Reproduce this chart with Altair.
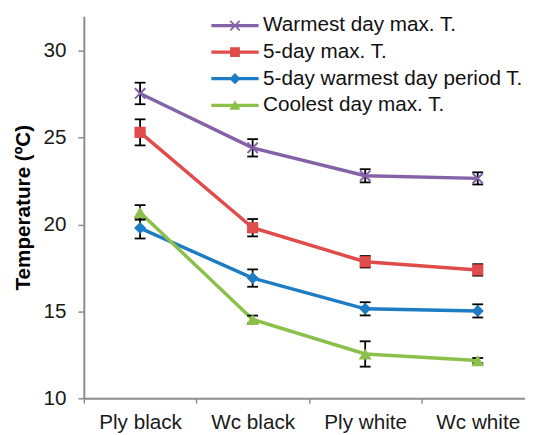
import json
import altair as alt
import pandas as pd

# ---- data ----
categories = ["Ply black", "Wc black", "Ply white", "Wc white"]
series_names = [
    "Warmest day max. T.",
    "5-day max. T.",
    "5-day warmest day period T.",
    "Coolest day max. T.",
]
warmest = [27.55, 24.42, 22.81, 22.66]
warmest_err = [0.62, 0.5, 0.38, 0.35]
five_day = [25.31, 19.82, 17.86, 17.39]
five_day_err = [0.75, 0.5, 0.33, 0.33]
five_day_warm = [19.8, 16.92, 15.15, 15.03]
five_day_warm_err = [0.6, 0.5, 0.38, 0.38]
coolest = [20.7, 14.54, 12.55, 12.17]
coolest_err = [0.42, 0.22, 0.73, 0.15]

y_ticks = [10, 15, 20, 25, 30]

# ---- styles ----
colors = ["#8462A8", "#E04B4B", "#1E7CC4", "#8BC04A"]
FONT = "Liberation Sans"

values = [warmest, five_day, five_day_warm, coolest]
errors = [warmest_err, five_day_err, five_day_warm_err, coolest_err]
rows = []
for s, vals, errs in zip(series_names, values, errors):
    for i, (c, v, e) in enumerate(zip(categories, vals, errs)):
        rows.append({"idx": i, "cat": c, "series": s, "value": v,
                     "lo": v - e, "hi": v + e})
df = pd.DataFrame(rows)

label_expr = ("datum.value % 1 === 0 && datum.value >= 0 ? "
              + json.dumps(categories) + "[datum.value] : ''")

x_axis = alt.Axis(
    values=[-0.5, 0, 0.5, 1, 1.5, 2, 2.5, 3],
    labelExpr=label_expr,
    title=None,
    tickSize=5,
    tickWidth=1.5,
    tickOpacity={"condition": {"test": "datum.value % 1 !== 0", "value": 1}, "value": 0},
    labelPadding=9,
    labelOverlap=False,
    labelFlush=False,
    labelBound=False,
    domainWidth=2,
    grid=False,
)
x_scale = alt.Scale(domain=[-0.5, 3.42], nice=False, zero=False)
y_scale = alt.Scale(domain=[10, 32], nice=False, zero=False)
y_axis = alt.Axis(
    values=y_ticks,
    title="Temperature (ºC)",
    tickSize=6,
    tickWidth=1.5,
    labelPadding=12,
    domainWidth=2,
    grid=False,
    titleFontWeight="bold",
    titleFontSize=21,
    titleFont=FONT,
    titleColor="#000000",
    titleX=-55,
    titleY=194,
    titleAngle=270,
    titleAlign="center",
    titleBaseline="alphabetic",
)

X = alt.X("idx:Q", scale=x_scale, axis=x_axis)
Y = alt.Y("value:Q", scale=y_scale, axis=y_axis)

base = alt.Chart(df)

line_layers = []
for name, col in zip(series_names, colors):
    line_layers.append(
        base.transform_filter(alt.datum.series == name)
        .mark_line(strokeWidth=3.5, color=col)
        .encode(x=X, y=Y)
    )

err_rules = base.mark_rule(color="#000000", strokeWidth=1.8).encode(
    x=X, y=alt.Y("lo:Q", scale=y_scale, axis=y_axis), y2="hi:Q"
)
cap_lo = base.mark_point(shape="stroke", size=121, strokeWidth=1.8, color="#000000", opacity=1).encode(
    x=X, y=alt.Y("lo:Q", scale=y_scale, axis=y_axis)
)
cap_hi = base.mark_point(shape="stroke", size=121, strokeWidth=1.8, color="#000000", opacity=1).encode(
    x=X, y=alt.Y("hi:Q", scale=y_scale, axis=y_axis)
)

marker_specs = [
    dict(shape="M-1,-1L1,1M-1,1L1,-1", filled=False, size=110, strokeWidth=2),
    dict(shape="square", filled=True, size=130, strokeWidth=0),
    dict(shape="diamond", filled=True, size=150, strokeWidth=0),
    dict(shape="triangle-up", filled=True, size=170, strokeWidth=0),
]
marker_layers = []
for name, col, spec in zip(series_names, colors, marker_specs):
    marker_layers.append(
        base.transform_filter(alt.datum.series == name)
        .mark_point(color=col, opacity=1, **spec)
        .encode(x=X, y=Y)
    )

# legend symbols: line segment + marker, drawn as filled paths
legend_paths = [
    "M-4,-0.27H4V0.27H-4Z"
    "M-0.694,-0.906L0.906,0.694L0.694,0.906L-0.906,-0.694Z"
    "M-0.694,0.906L-0.906,0.694L0.694,-0.906L0.906,-0.694Z",
    "M-4,-0.27H4V0.27H-4Z M-0.83,-0.83H0.83V0.83H-0.83Z",
    "M-4,-0.27H4V0.27H-4Z M-0.95,0L0,-0.95L0.95,0L0,0.95Z",
    "M-4,-0.27H4V0.27H-4Z M0,-0.85L0.95,0.75L-0.95,0.75Z",
]
legend_def = alt.Legend(
    title=None, orient="none", legendX=143, legendY=-1,
    labelFont=FONT, labelFontSize=21, labelColor="#111111",
    symbolSize=144, labelOffset=18, rowPadding=5, padding=0,
    labelLimit=400, symbolStrokeWidth=0, symbolOpacity=1,
)
legend_layer = base.transform_filter("false").mark_point(filled=True, size=144, opacity=1).encode(
    x=X, y=Y,
    color=alt.Color("series:N", scale=alt.Scale(domain=series_names, range=colors), legend=legend_def),
    shape=alt.Shape("series:N", scale=alt.Scale(domain=series_names, range=legend_paths), legend=legend_def),
)

chart = alt.layer(*line_layers, err_rules, cap_lo, cap_hi, *marker_layers, legend_layer).properties(
    width=448, height=388,
    padding={"left": 77, "top": 5, "right": 0, "bottom": 34},
    autosize=alt.AutoSizeParams(type="none"),
    background="#ffffff",
).configure_view(stroke=None).configure_axis(
    domainColor="#8c8c8c", tickColor="#8c8c8c",
    labelFont=FONT, labelFontSize=21, labelColor="#1a1a1a",
)

chart.save("out.html", embed_options={"renderer": "svg", "actions": False})
